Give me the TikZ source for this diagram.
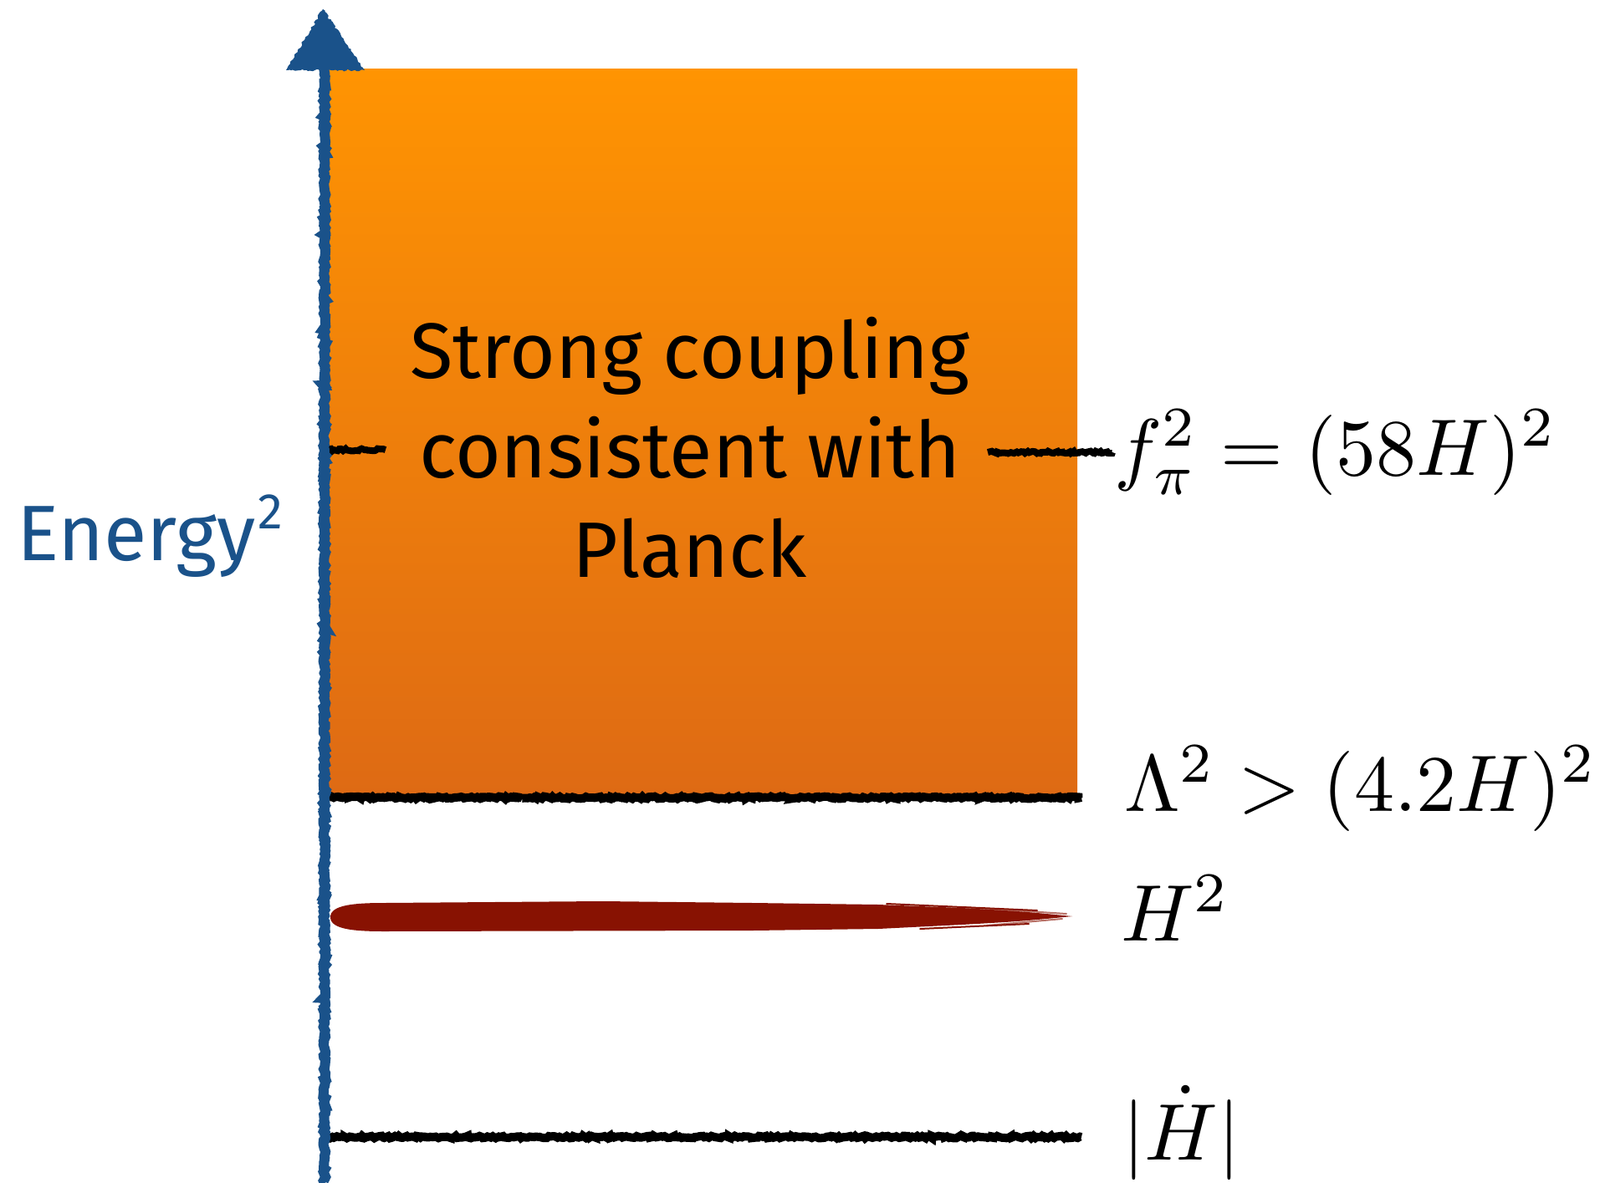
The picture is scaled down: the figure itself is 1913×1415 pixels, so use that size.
\documentclass[tikz,border=0pt]{standalone}
\usepackage{graphicx}
\usepackage{fontspec}
\newfontfamily\hand{Fira Sans}
\usetikzlibrary{decorations.pathmorphing}
\definecolor{axisblue}{RGB}{26,82,138}
\definecolor{orangetop}{RGB}{255,148,2}
\definecolor{orangebot}{RGB}{222,106,20}
\definecolor{brushred}{RGB}{136,18,2}
\tikzset{
  rough/.style={decorate,decoration={random steps,segment length=2.5pt,amplitude=1.4pt}},
  levelline/.style={draw=black,line width=10pt,rough},
  ticke/.style={draw=black,line width=8pt,rough},
  mathlabel/.style={anchor=base west,inner sep=0pt},
  streak/.style={draw=brushred,line width=2pt,line cap=round},
}
\newcommand{\bigmath}[1]{\scalebox{9.6}{$#1$}}
\begin{document}
\begin{tikzpicture}[x=1pt,y=-1pt]
\useasboundingbox (0,0) rectangle (1913,1415);
% orange region
\shade[top color=orangetop,bottom color=orangebot] (393,83) rectangle (1288,952);
% coordinates
\coordinate (axb) at (388,1415);
\coordinate (axt) at (388,80);
\coordinate (lamL) at (393,954);
\coordinate (lamR) at (1293,954);
\coordinate (hdL) at (393,1360);
\coordinate (hdR) at (1293,1360);
\coordinate (fL1) at (390,538);
\coordinate (fL2) at (461,538);
\coordinate (fR1) at (1181,541);
\coordinate (fR2) at (1330,541);
% level lines
\path[levelline] (lamL) -- (lamR);
\path[levelline] (hdL) -- (hdR);
\path[ticke] (fL1) -- (fL2);
\path[ticke] (fR1) -- (fR2);
% H^2 brush stroke
\fill[brushred] (395,1097) .. controls (395,1082) and (425,1080) .. (460,1080)
  -- (720,1078) -- (900,1080) -- (1050,1082) -- (1150,1086) .. controls (1220,1090) .. (1282,1096)
  .. controls (1220,1102) .. (1150,1106) -- (1050,1111) -- (900,1113) -- (460,1114)
  .. controls (425,1114) and (395,1112) .. (395,1097) -- cycle;
\path[streak] (1060,1081) -- (1240,1089);
\path[streak] (1100,1111) -- (1230,1105);
\path[streak,opacity=0.6] (1150,1085) -- (1275,1093);
\path[streak,opacity=0.6] (1180,1107) -- (1270,1099);
% axis
\draw[axisblue,line width=12pt,rough] (axb) -- (axt);
\fill[axisblue,rough] (342,84) -- (386,11) -- (436,84) -- cycle;
% texts
\node[anchor=base west,inner sep=0pt,text=axisblue,font=\hand\fontsize{94}{100}\selectfont] (energy) at (20,670) {Energy\kern3pt\raisebox{0.40em}{\fontsize{60}{66}\selectfont 2}};
\node[align=center,inner sep=0pt,font=\hand\fontsize{94}{119}\selectfont] (main) at (825,535) {Strong coupling\\consistent with\\Planck};
\node[mathlabel] (fpi) at (1332,568) {\bigmath{f_\pi^2=(58H)^2}};
\node[mathlabel] (lam) at (1344,970) {\bigmath{\Lambda^2>(4.2H)^2}};
\node[mathlabel] (hsq) at (1340,1125) {\bigmath{H^2}};
\node[mathlabel] (hdot) at (1342,1387) {\bigmath{|\dot H|}};
\end{tikzpicture}
\end{document}
